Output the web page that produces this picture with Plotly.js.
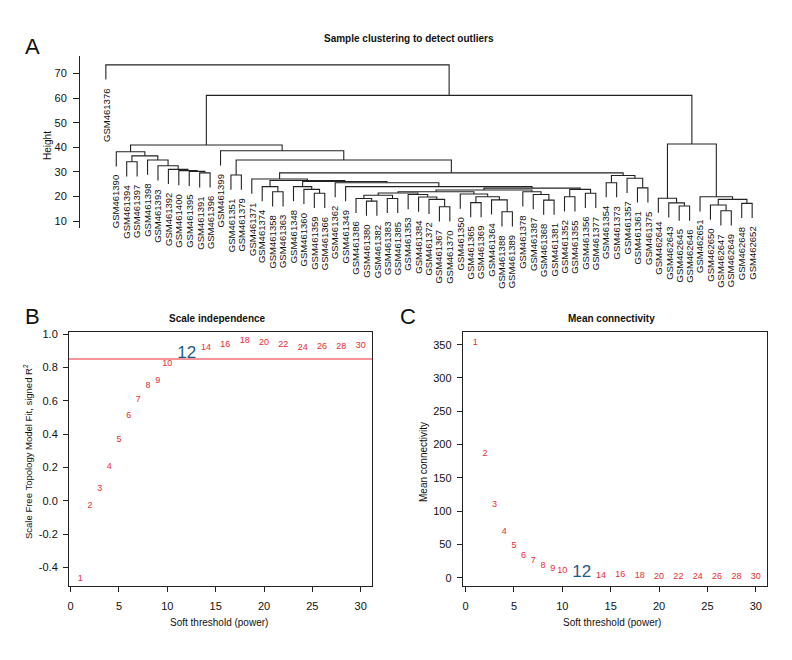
<!DOCTYPE html>
<html><head><meta charset="utf-8">
<script src="https://cdn.plot.ly/plotly-3.0.1.min.js"></script>
<style>html,body{margin:0;padding:0;background:#fff}</style>
</head><body><div id="chart" style="width:792px;height:660px"></div>
<script>
// ---------- Panel A: sample dendrogram ----------
const leafLabels = ["GSM461376","GSM461390","GSM461394","GSM461397","GSM461398","GSM461393","GSM461392","GSM461400","GSM461395","GSM461391","GSM461396","GSM461399","GSM461351","GSM461379","GSM461371","GSM461374","GSM461358","GSM461363","GSM461348","GSM461360","GSM461359","GSM461366","GSM461362","GSM461349","GSM461386","GSM461380","GSM461382","GSM461383","GSM461385","GSM461353","GSM461384","GSM461372","GSM461367","GSM461370","GSM461350","GSM461365","GSM461369","GSM461364","GSM461388","GSM461389","GSM461378","GSM461387","GSM461368","GSM461381","GSM461352","GSM461355","GSM461356","GSM461377","GSM461354","GSM461373","GSM461357","GSM461361","GSM461375","GSM462644","GSM462643","GSM462645","GSM462646","GSM462651","GSM462650","GSM462647","GSM462649","GSM462648","GSM462652"];
// merges, hclust style: negative = leaf (position in leaf order), positive = earlier merge
const mergeLeft  = [-10,-9,-8,-7,-6,-5,-3,7,-2,-13,-17,-16,-21,-20,-19,-26,-25,-28,17,-33,-32,-31,-30,19,-39,-38,-36,27,-35,24,-43,-42,-41,30,-45,-47,35,34,-24,-23,15,12,-15,-49,-52,-51,44,43,10,-12,9,-56,-55,-54,-60,-59,-62,56,-58,54,51,-1];
const mergeRight = [-11,1,2,3,4,5,-4,6,8,-14,-18,11,-22,13,14,-27,16,-29,18,-34,20,21,22,23,-40,25,-37,26,28,29,-44,31,32,33,-46,-48,36,37,38,39,40,41,42,-50,-53,45,46,47,48,49,50,-57,52,53,-61,55,-63,57,58,59,60,61];
const mergeHeight = [29.6,30.2,30.5,31.0,32.5,34.8,34.1,36.5,38.2,28.7,21.9,24.0,21.3,22.9,24.0,18.1,19.2,19.2,20.5,15.8,18.8,19.8,20.8,21.4,13.8,18.6,17.5,19.9,21.0,21.9,18.5,20.8,21.9,22.6,19.9,21.3,22.9,23.4,24.0,25.6,26.1,26.5,27.1,25.6,23.5,27.4,28.5,29.6,34.8,38.6,40.9,16.1,17.4,19.3,14.2,16.5,17.2,18.8,19.9,41.3,61.1,73.5];
const heightTicks = [10,20,30,40,50,60,70];

// ---------- Panels B and C: soft threshold ----------
const powers = [1,2,3,4,5,6,7,8,9,10,12,14,16,18,20,22,24,26,28,30];
const scaleFitR2 = [-0.470,-0.030,0.074,0.204,0.364,0.510,0.604,0.688,0.720,0.824,0.884,0.918,0.934,0.958,0.946,0.934,0.920,0.926,0.922,0.930];
const meanConnectivity = [353,186.6,109,69,47.5,33,25,17.5,14,10.5,7.5,3.0,4.2,2.5,0.8,0.7,0.8,0.8,0.8,0.8];
const selectedPower = 12;
const r2Cutoff = 0.85;
const powerTicks = [0,5,10,15,20,25,30];
const r2Ticks = [-0.4,-0.2,0.0,0.2,0.4,0.6,0.8,1.0];
const r2TickText = ["-0.4","-0.2","0.0","0.2","0.4","0.6","0.8","1.0"];
const kTicks = [0,50,100,150,200,250,300,350];

// ---------- build dendrogram geometry from merges ----------
const nodeX = [];
const cx = c => c < 0 ? -c : nodeX[c-1];
for (let i = 0; i < mergeHeight.length; i++) nodeX[i] = (cx(mergeLeft[i]) + cx(mergeRight[i])) / 2;
const hang = 0.1 * (Math.max(...mergeHeight) - Math.min(...mergeHeight));
const leafBottom = [];
const segX = [], segY = [];
for (let i = 0; i < mergeHeight.length; i++) {
  const h = mergeHeight[i];
  const l = mergeLeft[i], r = mergeRight[i];
  const lb = l < 0 ? h - hang : mergeHeight[l-1];
  const rb = r < 0 ? h - hang : mergeHeight[r-1];
  if (l < 0) leafBottom[-l-1] = lb;
  if (r < 0) leafBottom[-r-1] = rb;
  segX.push(cx(l), cx(l), cx(r), cx(r), null);
  segY.push(lb, h, h, rb, null);
}

const W = 792, H = 660;
const px = x => x / W, py = y => 1 - y / H;
const FONT = '"Liberation Sans", Arial, Helvetica, sans-serif';
const INK = '#111';
const RED = '#ea2a33';
const BLUE = '#1d5b86';

const annotations = [];
function txt(text, x, y, o) {
  annotations.push(Object.assign({text: text, x: px(x), y: py(y), xref: 'paper', yref: 'paper',
    showarrow: false, xanchor: 'center', yanchor: 'middle',
    font: {family: FONT, size: 10, color: INK}}, o || {}));
}
// leaf labels
leafLabels.forEach((lab, i) => {
  annotations.push({text: lab, x: i + 1, y: leafBottom[i], xref: 'x', yref: 'y',
    showarrow: false, textangle: -90, xanchor: 'center', yanchor: 'top', yshift: -7,
    font: {family: FONT, size: 9.5, color: INK}});
});
txt('A', 32, 46, {font: {family: FONT, size: 22, color: INK}});
txt('B', 32, 316, {font: {family: FONT, size: 22, color: INK}});
txt('C', 408, 316, {font: {family: FONT, size: 22, color: INK}});
txt('<b>Sample clustering to detect outliers</b>', 409, 39, {font: {family: FONT, size: 10, color: INK}});
txt('<b>Scale independence</b>', 217, 318, {font: {family: FONT, size: 10, color: INK}});
txt('<b>Mean connectivity</b>', 611, 318, {font: {family: FONT, size: 10, color: INK}});
txt('Height', 47, 146, {textangle: -90, font: {family: FONT, size: 10, color: INK}});
txt('Scale Free Topology Model Fit, signed R<sup>2</sup>', 28, 452, {textangle: -90, font: {family: FONT, size: 9.5, color: INK}});
txt('Mean connectivity', 424, 462, {textangle: -90, font: {family: FONT, size: 10, color: INK}});
txt('Soft threshold (power)', 219, 622, {font: {family: FONT, size: 10, color: INK}});
txt('Soft threshold (power)', 612, 622, {font: {family: FONT, size: 10, color: INK}});

const isSel = p => p === selectedPower;
const pick = (arr, keep) => arr.filter((_, i) => keep(powers[i]));

const traces = [
  {x: segX, y: segY, xaxis: 'x', yaxis: 'y', mode: 'lines', type: 'scatter',
   line: {color: '#222', width: 1.1}, hoverinfo: 'skip'},
  {x: pick(powers, p => !isSel(p)), y: pick(scaleFitR2, p => !isSel(p)), text: pick(powers, p => !isSel(p)).map(String),
   xaxis: 'x2', yaxis: 'y2', mode: 'text', type: 'scatter', cliponaxis: false,
   textfont: {family: FONT, size: 9, color: RED}, hoverinfo: 'skip'},
  {x: pick(powers, isSel), y: pick(scaleFitR2, isSel), text: pick(powers, isSel).map(String),
   xaxis: 'x2', yaxis: 'y2', mode: 'text', type: 'scatter', cliponaxis: false,
   textfont: {family: FONT, size: 17, color: BLUE}, hoverinfo: 'skip'},
  {x: pick(powers, p => !isSel(p)), y: pick(meanConnectivity, p => !isSel(p)), text: pick(powers, p => !isSel(p)).map(String),
   xaxis: 'x3', yaxis: 'y3', mode: 'text', type: 'scatter', cliponaxis: false,
   textfont: {family: FONT, size: 9, color: RED}, hoverinfo: 'skip'},
  {x: pick(powers, isSel), y: pick(meanConnectivity, isSel), text: pick(powers, isSel).map(String),
   xaxis: 'x3', yaxis: 'y3', mode: 'text', type: 'scatter', cliponaxis: false,
   textfont: {family: FONT, size: 17, color: BLUE}, hoverinfo: 'skip'}
];

const tickfont = {family: FONT, size: 11, color: INK};
const boxAxis = {showline: true, mirror: true, linecolor: '#222', linewidth: 1, ticks: 'outside', ticklen: 5,
  tickcolor: '#222', showgrid: false, zeroline: false, tickfont: tickfont, tickmode: 'array', ticklabelstandoff: 3};

const layout = {
  width: W, height: H, margin: {l: 0, r: 0, t: 0, b: 0},
  paper_bgcolor: '#fff', plot_bgcolor: '#fff', showlegend: false,
  xaxis: {domain: [px(80), px(778)], range: [-1.48, 65.48], visible: false, fixedrange: true},
  yaxis: {domain: [py(227.7), py(56)], range: [7.3, 77.1], showline: true, linecolor: '#222', ticks: 'outside',
    ticklen: 6, tickcolor: '#222', tickmode: 'array', tickvals: heightTicks, showgrid: false, zeroline: false,
    tickfont: {family: FONT, size: 11, color: INK}, ticklabelstandoff: 4},
  xaxis2: Object.assign({}, boxAxis, {domain: [px(69), px(372.3)], range: [-0.17, 31.2], tickvals: powerTicks, anchor: 'y2', ticklabelstandoff: 5}),
  yaxis2: Object.assign({}, boxAxis, {domain: [py(586), py(331.7)], range: [-0.5117, 1.0138], tickvals: r2Ticks, ticktext: r2TickText, anchor: 'x2'}),
  xaxis3: Object.assign({}, boxAxis, {domain: [px(462.7), px(766.7)], range: [-0.3, 31.13], tickvals: powerTicks, anchor: 'y3', ticklabelstandoff: 5}),
  yaxis3: Object.assign({}, boxAxis, {domain: [py(586), py(331.7)], range: [-12.45, 369.5], tickvals: kTicks, anchor: 'x3'}),
  shapes: [{type: 'line', xref: 'x2 domain', yref: 'y2', x0: 0, x1: 1, y0: r2Cutoff, y1: r2Cutoff,
    line: {color: RED, width: 1}}],
  annotations: annotations
};

Plotly.newPlot('chart', traces, layout, {displayModeBar: false, staticPlot: true});
</script>
</body></html>
